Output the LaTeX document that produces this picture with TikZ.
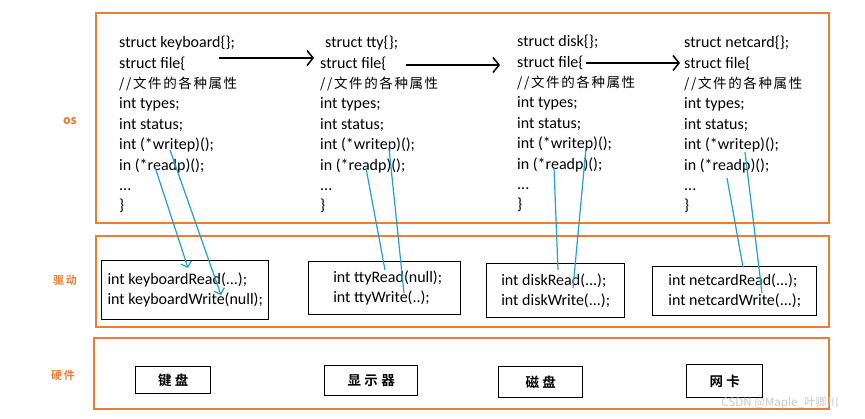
\documentclass[tikz,border=0pt]{standalone}
\usepackage{fontspec}
\setmainfont{Carlito}
\newfontfamily\cjk[LetterSpace=12]{Noto Sans CJK SC}
\newfontfamily\cjkb[LetterSpace=25]{Noto Sans CJK SC Bold}
\newfontfamily\cjktag[LetterSpace=18]{Noto Sans CJK SC Bold}
\newfontfamily\cjkmark{Noto Sans CJK SC}
\usetikzlibrary{arrows.meta,positioning}
\definecolor{layerC}{HTML}{ED7D31}
\definecolor{callC} {HTML}{1E9FD8}
\definecolor{markC} {HTML}{C8C8C8}
\tikzset{
  layerBox/.style={draw=layerC,line width=1.6pt,anchor=north west,inner sep=0pt},
  layerTag/.style={text=layerC,font=\cjktag\fontsize{11}{13}\selectfont},
  codeCol/.style={anchor=north west,align=left,inner sep=0pt,
    font=\fontsize{16}{20.4}\selectfont},
  drvBox/.style={draw,line width=1.4pt,anchor=north west,align=left,inner sep=0pt,
    font=\fontsize{16}{20}\selectfont},
  hwBox/.style={draw,line width=1.4pt,anchor=north west,inner sep=0pt,
    font=\cjkb\fontsize{13.5}{15}\selectfont},
  nextArrow/.style={-{Straight Barb[length=6pt,width=15pt,line width=1.5pt]},line width=1.6pt},
  callLine/.style={callC,line width=1.2pt},
  callArrow/.style={callLine,-{Straight Barb[length=5pt,width=11pt,line width=1.2pt]}},
}
\newcommand{\cmtline}{{\cjk\fontsize{13.5}{20.4}\selectfont //文件的各种属性}}

\begin{document}
\begin{tikzpicture}[x=1pt,y=-1pt]
\useasboundingbox (0,0) rectangle (865,419);
% three layers
\node[layerBox,minimum width=733pt,minimum height=210pt] (osLayer) at (95,12) {};
\node[layerBox,minimum width=733pt,minimum height=91pt] (drvLayer) at (95,235) {};
\node[layerBox,minimum width=735pt,minimum height=71pt] (hwLayer) at (93,337) {};
\node[layerTag,font=\cjkmark\bfseries\fontsize{12}{14}\selectfont] (osTag) at (70,121) {os};
\node[layerTag] (drvTag) at (65,280) {驱动};
\node[layerTag] (hwTag) at (63,375) {硬件};

% OS: struct file of each device
\node[codeCol] (kbdCode) at (119,36) {struct keyboard\{\};\\ struct file\{\\ \cmtline\\
  int types;\\ int status;\\ int (*writep)();\\ in (*readp)();\\ ...\\ \}};
\node[codeCol] (ttyCode) at (320,36) {\hspace*{5pt}struct tty\{\};\\ struct file\{\\ \cmtline\\
  int types;\\ int status;\\ int (*writep)();\\ in (*readp)();\\ ...\\ \}};
\node[codeCol] (diskCode) at (517,35) {struct disk\{\};\\ struct file\{\\ \cmtline\\
  int types;\\ int status;\\ int (*writep)();\\ in (*readp)();\\ ...\\ \}};
\node[codeCol] (netCode) at (684,36) {struct netcard\{\};\\ struct file\{\\ \cmtline\\
  int types;\\ int status;\\ int (*writep)();\\ in (*readp)();\\ ...\\ \}};

\coordinate (kbdNext) at (219,58);
\coordinate (ttyFile) at (314,58);
\coordinate (ttyNext) at (406,65);
\coordinate (diskFile) at (500,65);
\coordinate (diskNext) at (586,63);
\coordinate (netFile) at (680,63);
\draw[nextArrow] (kbdNext) -- (ttyFile);
\draw[nextArrow] (ttyNext) -- (diskFile);
\draw[nextArrow] (diskNext) -- (netFile);

% drivers
\node[drvBox,minimum width=167pt,minimum height=59pt] (kbdDrv) at (101,260)
  {int keyboardRead(...);\\ int keyboardWrite(null);};
\node[drvBox,minimum width=152pt,minimum height=53pt] (ttyDrv) at (308,261)
  {\hspace*{6pt}int ttyRead(null);\\ \hspace*{6pt}int ttyWrite(..);};
\node[drvBox,minimum width=138pt,minimum height=54pt] (diskDrv) at (486,263)
  {int diskRead(...);\\ int diskWrite(...);};
\node[drvBox,minimum width=164pt,minimum height=49pt] (netDrv) at (652,266)
  {int netcardRead(...);\\ int netcardWrite(...);};

% hardware
\node[hwBox,minimum width=75pt,minimum height=27pt] (kbdHw) at (135,366) {键盘};
\node[hwBox,minimum width=93pt,minimum height=30pt] (ttyHw) at (324,365) {显示器};
\node[hwBox,minimum width=84pt,minimum height=31pt] (diskHw) at (498,366) {磁盘};
\node[hwBox,minimum width=76pt,minimum height=33pt] (netHw) at (686,364) {网卡};

% read / write pointers to driver functions
\coordinate (kbdRp) at (155,167);  \coordinate (kbdRead) at (188,268);
\coordinate (kbdWp) at (170,150);  \coordinate (kbdWrite) at (221,295);
\coordinate (ttyRp) at (366,168);  \coordinate (ttyRead) at (385,270);
\coordinate (ttyWp) at (389,148);  \coordinate (ttyWrite) at (404,293);
\coordinate (diskRp) at (554,168); \coordinate (diskRead) at (558,270);
\coordinate (diskWp) at (586,148); \coordinate (diskWrite) at (573,288);
\coordinate (netRp) at (727,178);  \coordinate (netRead) at (743,267);
\coordinate (netWp) at (745,152);  \coordinate (netWrite) at (762,293);
\draw[callArrow] (kbdRp) -- (kbdRead);
\draw[callArrow] (kbdWp) -- (kbdWrite);
\draw[callLine] (ttyRp) -- (ttyRead);
\draw[callLine] (ttyWp) -- (ttyWrite);
\draw[callLine] (diskRp) -- (diskRead);
\draw[callLine] (diskWp) -- (diskWrite);
\draw[callLine] (netRp) -- (netRead);
\draw[callLine] (netWp) -- (netWrite);

\node[text=markC,font=\cjkmark\fontsize{11.5}{13}\selectfont] (mark) at (780,403) {CSDN @Maple\_叶卿川};
\end{tikzpicture}
\end{document}
